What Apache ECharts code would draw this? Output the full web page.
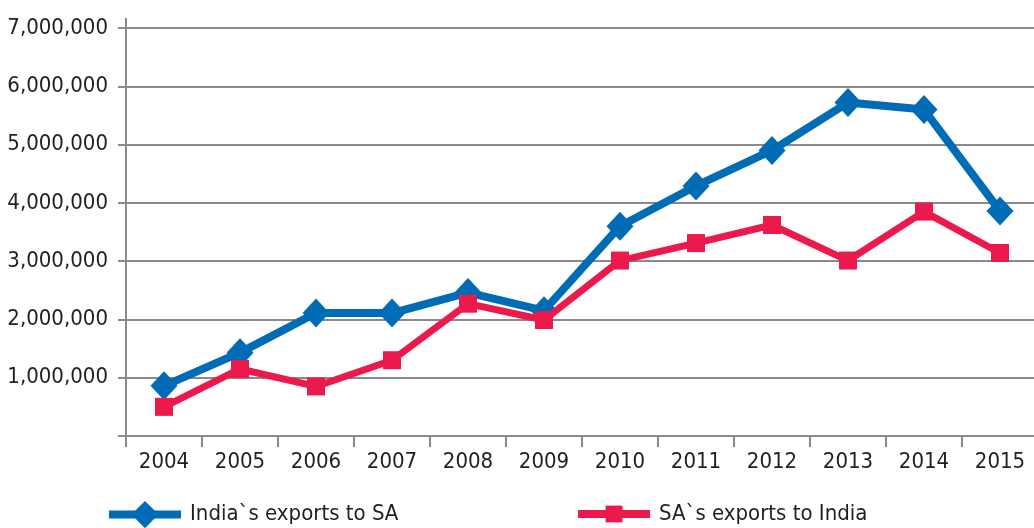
<!DOCTYPE html>
<html>
<head>
<meta charset="utf-8">
<script src="https://cdn.jsdelivr.net/npm/echarts@6/dist/echarts.min.js"></script>
<style>
  html, body { margin: 0; padding: 0; background: #ffffff; }
  #chart { width: 1034px; height: 528px; }
</style>
</head>
<body>
<div id="chart"></div>
<script>
// Trade between India and South Africa, 2004-2015
const years = ['2004', '2005', '2006', '2007', '2008', '2009', '2010', '2011', '2012', '2013', '2014', '2015'];
const indiaExports = [860000, 1430000, 2110000, 2110000, 2460000, 2150000, 3600000, 4290000, 4900000, 5720000, 5600000, 3860000];
const saExports = [500000, 1150000, 850000, 1300000, 2270000, 1990000, 3010000, 3310000, 3620000, 3010000, 3850000, 3140000];
const seriesNames = ['India`s exports to SA', 'SA`s exports to India'];
const yTicks = { min: 0, max: 7000000, interval: 1000000 };

const FONT = '"Liberation Sans Narrow", "DejaVu Sans Condensed", sans-serif';
const GRAY = '#8a8a8c';
const TEXT = '#231f20';
const BLUE = '#006cb5';
const RED = '#ec1a4c';

const chart = echarts.init(document.getElementById('chart'), null, { renderer: 'canvas' });

const legendBase = {
  padding: 0,
  itemWidth: 72,
  lineStyle: { width: 8 },
  textStyle: { fontFamily: FONT, fontSize: 22, color: TEXT, padding: [0, 0, 0, 4] },
  selectedMode: false
};

chart.setOption({
  animation: false,
  backgroundColor: '#ffffff',
  grid: { left: 126, right: -4, top: 28, bottom: 92, containLabel: false, outerBoundsMode: 'none' },
  legend: [
    Object.assign({}, legendBase, { left: 105, top: 501, itemHeight: 34, data: [seriesNames[0]] }),
    Object.assign({}, legendBase, { left: 574, top: 503, itemHeight: 21, data: [seriesNames[1]] })
  ],
  xAxis: {
    type: 'category',
    data: years,
    boundaryGap: true,
    axisLine: { show: true, lineStyle: { color: GRAY, width: 2 } },
    axisTick: { show: true, alignWithLabel: false, length: 11, lineStyle: { color: GRAY, width: 2 } },
    axisLabel: { fontFamily: FONT, fontSize: 22, color: TEXT, margin: 15, interval: 0 }
  },
  yAxis: {
    type: 'value',
    min: yTicks.min,
    max: yTicks.max,
    interval: yTicks.interval,
    axisLine: { show: true, lineStyle: { color: GRAY, width: 2 } },
    axisTick: { show: true, length: 8, lineStyle: { color: GRAY, width: 2 } },
    splitLine: { show: true, lineStyle: { color: GRAY, width: 2 } },
    axisLabel: {
      fontFamily: FONT, fontSize: 22, color: TEXT, margin: 18,
      formatter: v => v === 0 ? '' : v.toLocaleString('en-US')
    }
  },
  series: [
    {
      name: seriesNames[0],
      type: 'line',
      data: indiaExports,
      symbol: 'diamond',
      symbolSize: [27, 29],
      lineStyle: { color: BLUE, width: 8 },
      itemStyle: { color: BLUE },
      z: 3
    },
    {
      name: seriesNames[1],
      type: 'line',
      data: saExports,
      symbol: 'rect',
      symbolSize: 18,
      lineStyle: { color: RED, width: 7 },
      itemStyle: { color: RED },
      z: 4
    }
  ]
});

// Extend the y axis line a little above the top gridline
(function () {
  const yTop = chart.convertToPixel({ yAxisIndex: 0 }, yTicks.max);
  const x0 = chart.convertToPixel({ xAxisIndex: 0 }, 0);
  const x1 = chart.convertToPixel({ xAxisIndex: 0 }, 1);
  const axisX = x0 - (x1 - x0) / 2;
  chart.setOption({
    graphic: [{
      type: 'line',
      shape: { x1: axisX, y1: yTop, x2: axisX, y2: yTop - 10 },
      style: { stroke: GRAY, lineWidth: 2 },
      silent: true
    }]
  });
})();
</script>
</body>
</html>
